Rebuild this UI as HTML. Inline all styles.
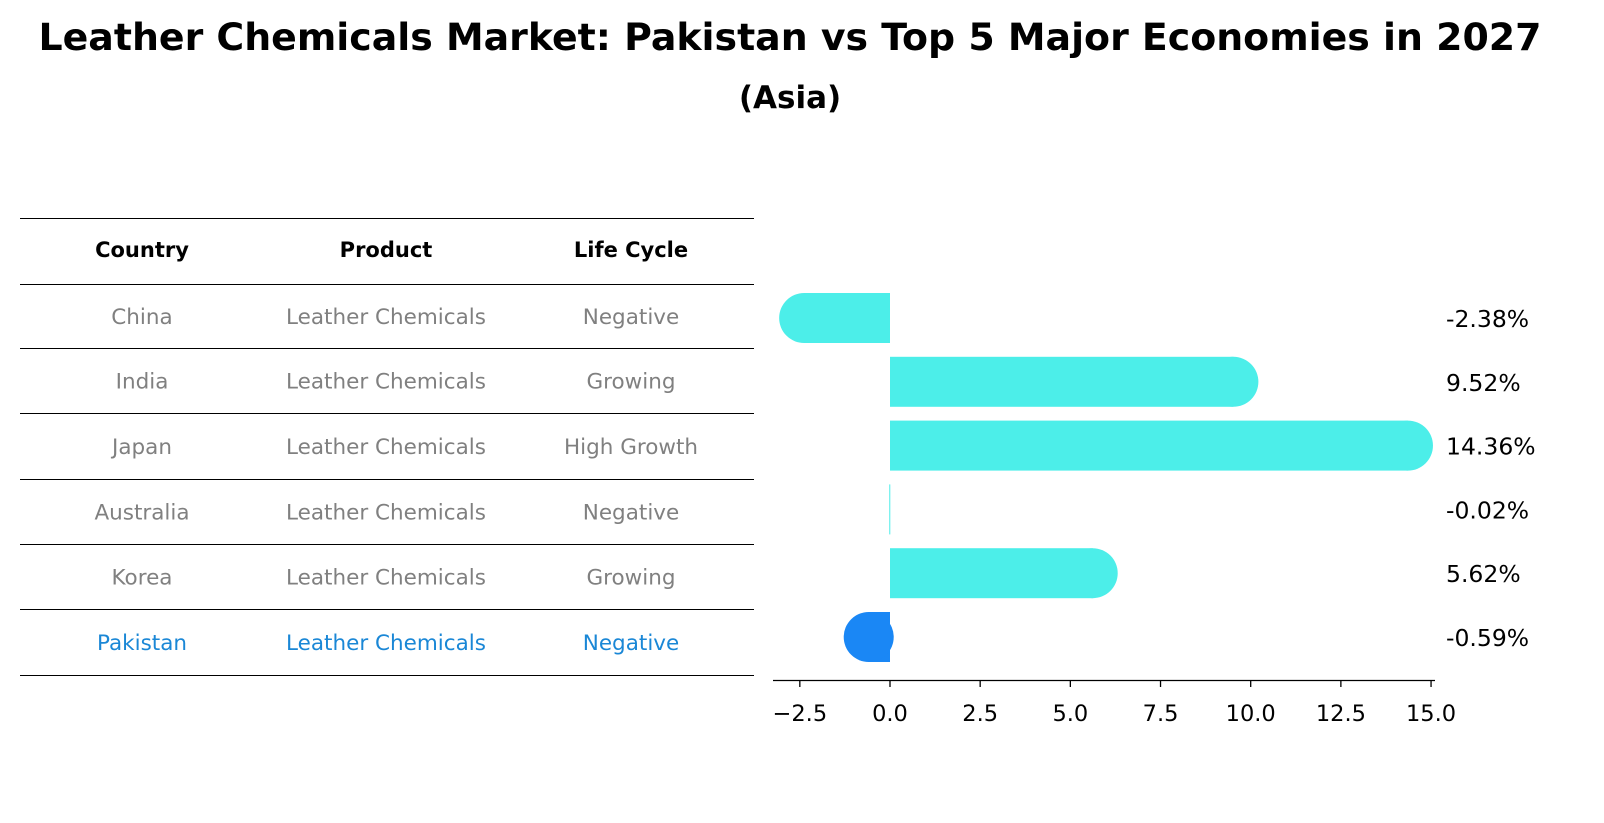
<!DOCTYPE html>
<html><head><meta charset="utf-8">
<style>
body{margin:0;background:#fff;font-family:"DejaVu Sans","Liberation Sans",sans-serif;}
#root{position:relative;width:1604px;height:823px;overflow:hidden;}
</style></head>
<body><div id="root">
<svg id="svg" width="1604" height="823" xmlns="http://www.w3.org/2000/svg">
<text x="790" y="50" text-anchor="middle" font-size="37" font-weight="bold" font-family="DejaVu Sans, sans-serif" textLength="1503" lengthAdjust="spacingAndGlyphs">Leather Chemicals Market: Pakistan vs Top 5 Major Economies in 2027</text>
<text x="790" y="108" text-anchor="middle" font-size="31" font-weight="bold" font-family="DejaVu Sans, sans-serif">(Asia)</text>
<g id="table"></g>
<g id="bars"></g>
</svg>
<script>
const countries=["China","India","Japan","Australia","Korea","Pakistan"];
const products=["Leather Chemicals","Leather Chemicals","Leather Chemicals","Leather Chemicals","Leather Chemicals","Leather Chemicals"];
const lifeCycles=["Negative","Growing","High Growth","Negative","Growing","Negative"];
const values=[-2.38,9.52,14.36,-0.02,5.62,-0.59];
const valueLabels=["-2.38%","9.52%","14.36%","-0.02%","5.62%","-0.59%"];
const ticks=[-2.5,0,2.5,5,7.5,10,12.5,15];
const tickLabels=["\u22122.5","0.0","2.5","5.0","7.5","10.0","12.5","15.0"];

const NS="http://www.w3.org/2000/svg";
function mk(tag,attrs,parent,txt){const e=document.createElementNS(NS,tag);for(const k in attrs)e.setAttribute(k,attrs[k]);if(txt!==undefined)e.textContent=txt;parent.appendChild(e);return e;}
const x=v=>890+v*36.07;
const rowY=i=>318+i*63.8;
const FONT="DejaVu Sans, sans-serif";

// table
const tb=document.getElementById('table');
const lineYs=[218,284,348,413,479,544,609,675];
lineYs.forEach(y=>{const l=mk('line',{x1:20,x2:754,y1:y+0.5,y2:y+0.5,stroke:'#000','stroke-width':1},tb);

});
const colX=[142,386,631];
["Country","Product","Life Cycle"].forEach((h,j)=>{const t=mk('text',{x:colX[j],y:257,'text-anchor':'middle','font-size':21,'font-weight':'bold','font-family':FONT},tb,h);

});
countries.forEach((c,i)=>{const col=i===5?'#1a87d6':'#808080';const y=(lineYs[i+1]+lineYs[i+2])/2+8;
[c,products[i],lifeCycles[i]].forEach((v,j)=>{const t=mk('text',{x:colX[j],y:y,'text-anchor':'middle','font-size':21.5,fill:col,'font-family':FONT},tb,v);

});});

// bars
const bg=document.getElementById('bars');
const h=50,r=25;
values.forEach((v,i)=>{const cy=rowY(i);const col=i===5?'#1a87f5':'#4ceee9';
const x0=x(0),x1=x(v);
const rc=mk('rect',{x:Math.min(x0,x1),y:cy-h/2,width:Math.max(Math.abs(x1-x0),1),height:h,fill:col},bg);


if(Math.abs(v)>0.05){const c=mk('circle',{cx:x1,cy:cy,r:r,fill:col},bg);

}
const t=mk('text',{x:1446,y:cy+9,'font-size':23.5,'font-family':FONT},bg,valueLabels[i]);

});
const ax=mk('line',{x1:773,x2:1435,y1:680.5,y2:680.5,stroke:'#000','stroke-width':1.3},bg);


ticks.forEach((tv,i)=>{const tx=x(tv);const tl=mk('line',{x1:tx,x2:tx,y1:680,y2:687,stroke:'#000','stroke-width':1.3},bg);


const t=mk('text',{x:tx,y:721,'text-anchor':'middle','font-size':22.5,'font-family':FONT},bg,tickLabels[i]);

});
</script>
</div></body></html>
